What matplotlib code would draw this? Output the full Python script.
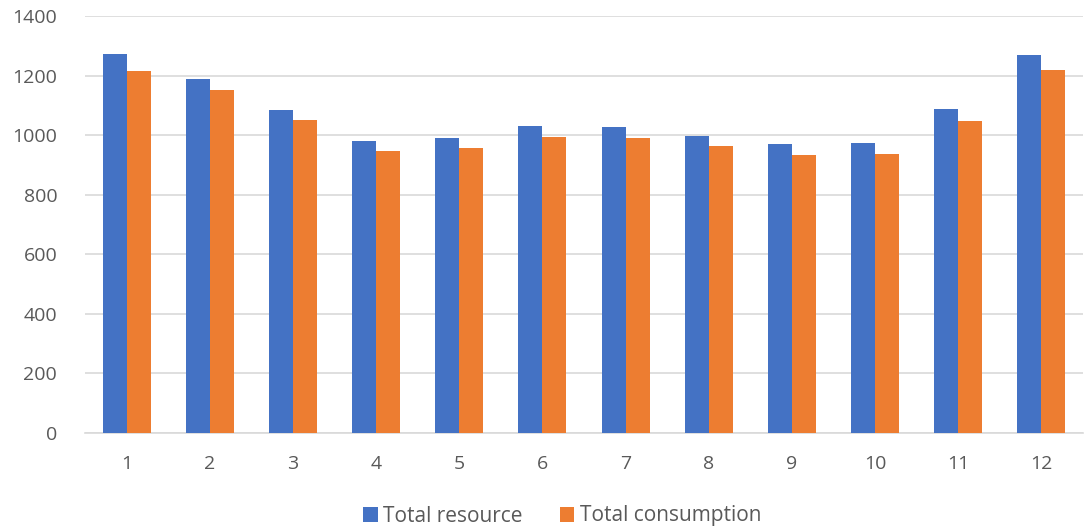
import numpy as np
import matplotlib.pyplot as plt

months = [str(i) for i in range(1, 13)]
total_resource = [1272, 1187, 1085, 980, 991, 1031, 1029, 998, 969, 974, 1087, 1270]
total_consumption = [1217, 1150, 1050, 947, 957, 995, 992, 964, 935, 936, 1048, 1219]

blue = '#4472C4'
orange = '#ED7D31'
grey_text = '#595959'
grid_col = '#D9D9D9'

plt.rcParams['font.family'] = ['Open Sans', 'DejaVu Sans']

fig = plt.figure(figsize=(10.84, 5.29), dpi=100)
ax = fig.add_axes([85 / 1084, 1 - 433 / 529, 998 / 1084, 417 / 529])

x = np.arange(len(months))
w = 0.288
b1 = ax.bar(x - w / 2, total_resource, w, color=blue, label='Total resource', zorder=3)
b2 = ax.bar(x + w / 2, total_consumption, w, color=orange, label='Total consumption', zorder=3)

ax.set_xlim(-0.5, len(months) - 0.5)
ax.set_ylim(0, 1400)
ax.set_yticks(range(0, 1401, 200))
ax.set_xticks(x)
ax.set_xticklabels(months)

ax.grid(axis='y', color=grid_col, linewidth=1.2, zorder=0)
for s in ['top', 'right', 'left']:
    ax.spines[s].set_visible(False)
ax.spines['bottom'].set_color(grid_col)
ax.spines['bottom'].set_linewidth(1.2)
ax.tick_params(axis='both', length=0, labelsize=14, colors=grey_text)
ax.tick_params(axis='y', pad=20)
ax.tick_params(axis='x', pad=16)

fig.legend(handles=[b1, b2], loc='center', bbox_to_anchor=(562 / 1084, 1 - 516 / 529),
           ncol=2, frameon=False, fontsize=15, handlelength=0.7, handleheight=0.7,
           handletextpad=0.25, columnspacing=1.8, labelcolor=grey_text)

fig.savefig('out.png', dpi=100)
